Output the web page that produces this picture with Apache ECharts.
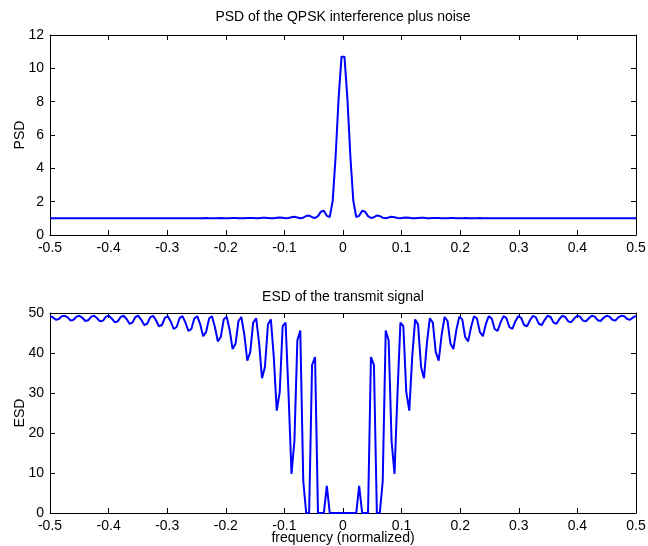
<!DOCTYPE html>
<html>
<head>
<meta charset="utf-8">
<script src="https://cdn.jsdelivr.net/npm/echarts/dist/echarts.min.js"></script>
<style>
html,body{margin:0;padding:0;background:#fff;}
#chart{width:648px;height:546px;}
</style>
</head>
<body>
<div id="chart"></div>
<script>
// Normalized frequency grid (200 points from -0.5 to 0.5)
const freq = [
-0.5000,-0.4950,-0.4899,-0.4849,-0.4799,-0.4749,-0.4698,-0.4648,-0.4598,-0.4548,
-0.4497,-0.4447,-0.4397,-0.4347,-0.4296,-0.4246,-0.4196,-0.4146,-0.4095,-0.4045,
-0.3995,-0.3945,-0.3894,-0.3844,-0.3794,-0.3744,-0.3693,-0.3643,-0.3593,-0.3543,
-0.3492,-0.3442,-0.3392,-0.3342,-0.3291,-0.3241,-0.3191,-0.3141,-0.3090,-0.3040,
-0.2990,-0.2940,-0.2889,-0.2839,-0.2789,-0.2739,-0.2688,-0.2638,-0.2588,-0.2538,
-0.2487,-0.2437,-0.2387,-0.2337,-0.2286,-0.2236,-0.2186,-0.2136,-0.2085,-0.2035,
-0.1985,-0.1935,-0.1884,-0.1834,-0.1784,-0.1734,-0.1683,-0.1633,-0.1583,-0.1533,
-0.1482,-0.1432,-0.1382,-0.1332,-0.1281,-0.1231,-0.1181,-0.1131,-0.1080,-0.1030,
-0.0980,-0.0930,-0.0879,-0.0829,-0.0779,-0.0729,-0.0678,-0.0628,-0.0578,-0.0528,
-0.0477,-0.0427,-0.0377,-0.0327,-0.0276,-0.0226,-0.0176,-0.0126,-0.0075,-0.0025,
0.0025,0.0075,0.0126,0.0176,0.0226,0.0276,0.0327,0.0377,0.0427,0.0477,
0.0528,0.0578,0.0628,0.0678,0.0729,0.0779,0.0829,0.0879,0.0930,0.0980,
0.1030,0.1080,0.1131,0.1181,0.1231,0.1281,0.1332,0.1382,0.1432,0.1482,
0.1533,0.1583,0.1633,0.1683,0.1734,0.1784,0.1834,0.1884,0.1935,0.1985,
0.2035,0.2085,0.2136,0.2186,0.2236,0.2286,0.2337,0.2387,0.2437,0.2487,
0.2538,0.2588,0.2638,0.2688,0.2739,0.2789,0.2839,0.2889,0.2940,0.2990,
0.3040,0.3090,0.3141,0.3191,0.3241,0.3291,0.3342,0.3392,0.3442,0.3492,
0.3543,0.3593,0.3643,0.3693,0.3744,0.3794,0.3844,0.3894,0.3945,0.3995,
0.4045,0.4095,0.4146,0.4196,0.4246,0.4296,0.4347,0.4397,0.4447,0.4497,
0.4548,0.4598,0.4648,0.4698,0.4749,0.4799,0.4849,0.4899,0.4950,0.5000
];

// PSD of the QPSK interference plus noise
const psd = [
1.0,1.0,1.005,1.01,1.005, 1.0,1.0,1.005,1.01,1.005, 1.0,1.0,1.005,1.01,1.005, 1.0,1.0,1.005,1.01,1.005,
1.0,1.0,1.005,1.01,1.005, 1.0,1.0,1.005,1.01,1.005, 1.0,1.0,1.005,1.01,1.005, 1.0,1.0,1.005,1.01,1.005,
1.0,1.0,1.01,1.01,1.005, 1.0,1.0,1.01,1.01,1.01, 1.0,1.0,1.01,1.015,1.01, 1.0,1.0,1.01,1.015,1.01,
1.0,1.005,1.02,1.02,1.01, 1.0,1.005,1.02,1.025,1.015, 1.0,1.01,1.03,1.035,1.02, 1.0,1.01,1.04,1.05,1.03,
1.0,1.02,1.07,1.09,1.05, 1.0,1.04,1.14,1.17,1.07, 1.02,1.13,1.4,1.45,1.15, 1.08,2.05,4.7,8.2,10.7,
10.7,8.2,4.7,2.05,1.08, 1.15,1.45,1.4,1.13,1.02, 1.07,1.17,1.14,1.04,1.0, 1.05,1.09,1.07,1.02,1.0,
1.03,1.05,1.04,1.01,1.0, 1.02,1.035,1.03,1.01,1.0, 1.015,1.025,1.02,1.005,1.0, 1.01,1.02,1.02,1.005,1.0,
1.01,1.015,1.01,1.0,1.0, 1.01,1.015,1.01,1.0,1.0, 1.01,1.01,1.01,1.0,1.0, 1.005,1.01,1.01,1.0,1.0,
1.005,1.01,1.005,1.0,1.0, 1.005,1.01,1.005,1.0,1.0, 1.005,1.01,1.005,1.0,1.0, 1.005,1.01,1.005,1.0,1.0,
1.005,1.01,1.005,1.0,1.0, 1.005,1.01,1.005,1.0,1.0, 1.005,1.01,1.005,1.0,1.0, 1.005,1.01,1.005,1.0,1.0
];

// ESD of the transmit signal
const esd = [
49.3,48.9,48.3,48.5,49.2, 49.3,48.9,48.1,48.3,49.1, 49.3,48.8,48.0,48.2,49.1, 49.3,48.7,47.9,48.1,49.1,
49.3,48.6,47.7,47.9,49.0, 49.3,48.5,47.3,47.6,49.0, 49.3,48.3,47.0,47.3,48.9, 49.3,48.2,46.7,47.0,48.8,
49.2,47.9,46.0,46.5,48.7, 49.2,47.6,45.5,46.0,48.6, 49.2,47.2,44.2,45.2,48.6, 49.2,46.5,42.9,44.0,48.4,
49.1,45.8,41.0,42.3,48.0, 49.0,44.5,38.1,40.2,47.6, 48.7,42.5,33.7,36.5,47.1, 48.4,39.0,25.6,30.2,46.7,
47.6,30.0,9.8,18.0,43.2, 45.6,8.0,0,0,37.0, 39.0,0,0,0,6.8, 0,0,0,0,0,
0,0,0,0,0, 6.8,0,0,0,39.0, 37.0,0,0,8.0,45.6, 43.2,18.0,9.8,30.0,47.6,
46.7,30.2,25.6,39.0,48.4, 47.1,36.5,33.7,42.5,48.7, 47.6,40.2,38.1,44.5,49.0, 48.0,42.3,41.0,45.8,49.1,
48.4,44.0,42.9,46.5,49.2, 48.6,45.2,44.2,47.2,49.2, 48.6,46.0,45.5,47.6,49.2, 48.7,46.5,46.0,47.9,49.2,
48.8,47.0,46.7,48.2,49.3, 48.9,47.3,47.0,48.3,49.3, 49.0,47.6,47.3,48.5,49.3, 49.0,47.9,47.7,48.6,49.3,
49.1,48.1,47.9,48.7,49.3, 49.1,48.2,48.0,48.8,49.3, 49.1,48.3,48.1,48.9,49.3, 49.2,48.5,48.3,48.9,49.3
];

const xTicks = {min: -0.5, max: 0.5, interval: 0.1};
const psdTicks = {min: 0, max: 12, interval: 2};
const esdTicks = {min: 0, max: 50, interval: 10};

const titles = ['PSD of the QPSK interference plus noise', 'ESD of the transmit signal'];
const xName = 'frequency (normalized)';
const yNames = ['PSD', 'ESD'];

const FONT = 'Liberation Sans, Arial, Helvetica, sans-serif';
const FS = 14;
const axisLine = {show: true, onZero: false, lineStyle: {color: '#000', width: 1}};
const tick = {show: true, inside: true, length: 5, lineStyle: {color: '#000', width: 1}};
const label = {show: true, color: '#000', fontSize: FS, fontFamily: FONT};

function xAx(grid, pos, showLabel, name, gap) {
  return Object.assign({
    type: 'value', gridIndex: grid, position: pos,
    axisLine: axisLine, axisTick: tick,
    axisLabel: showLabel ? Object.assign({margin: 6, showMinLabel: true, showMaxLabel: true}, label) : {show: false},
    splitLine: {show: false},
    name: name || '', nameLocation: 'middle', nameGap: gap || 0, nameMoveOverlap: false,
    nameTextStyle: {color: '#000', fontSize: FS, fontFamily: FONT}
  }, xTicks);
}
function yAx(grid, pos, showLabel, ticks, name) {
  return Object.assign({
    type: 'value', gridIndex: grid, position: pos,
    axisLine: axisLine, axisTick: tick,
    axisLabel: showLabel ? Object.assign({margin: 6, showMinLabel: true, showMaxLabel: true}, label) : {show: false},
    splitLine: {show: false},
    name: name || '', nameLocation: 'middle', nameGap: 23, nameRotate: 90, nameMoveOverlap: false,
    nameTextStyle: {color: '#000', fontSize: FS, fontFamily: FONT}
  }, ticks);
}

const chart = echarts.init(document.getElementById('chart'), null, {renderer: 'canvas'});
chart.setOption({
  animation: false,
  backgroundColor: '#fff',
  grid: [
    {left: 50, width: 586, top: 35, height: 200, containLabel: false, outerBoundsMode: 'none'},
    {left: 50, width: 586, top: 313, height: 200, containLabel: false, outerBoundsMode: 'none'}
  ],
  xAxis: [
    xAx(0, 'bottom', true),
    xAx(0, 'top', false, titles[0], 11),
    xAx(1, 'bottom', true, xName, 18),
    xAx(1, 'top', false, titles[1], 9)
  ],
  yAxis: [
    yAx(0, 'left', true, psdTicks, yNames[0]),
    yAx(0, 'right', false, psdTicks),
    yAx(1, 'left', true, esdTicks, yNames[1]),
    yAx(1, 'right', false, esdTicks)
  ],
  series: [
    {type: 'line', xAxisIndex: 0, yAxisIndex: 0, showSymbol: false,
     lineStyle: {color: '#0000ff', width: 2}, data: freq.map((f, i) => [f, psd[i]])},
    {type: 'line', xAxisIndex: 2, yAxisIndex: 2, showSymbol: false,
     lineStyle: {color: '#0000ff', width: 2}, data: freq.map((f, i) => [f, esd[i]])}
  ]
});
</script>
</body>
</html>
